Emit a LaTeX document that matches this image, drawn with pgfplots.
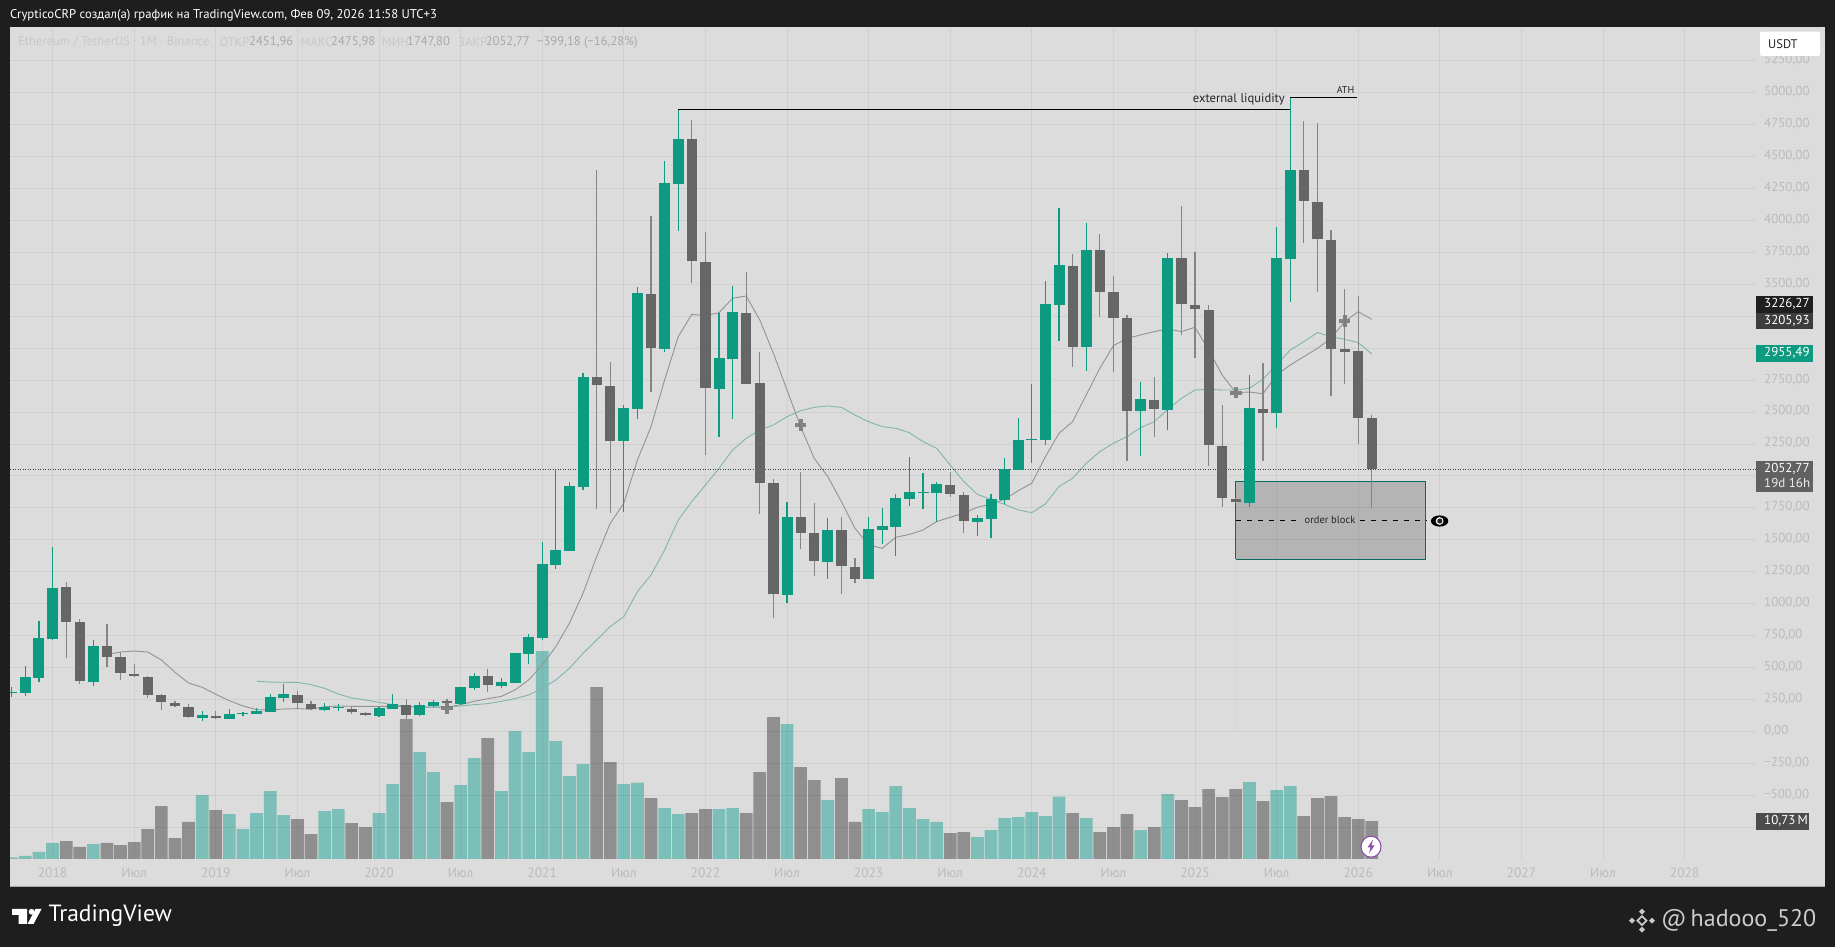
\documentclass[border=0pt]{standalone}
\usepackage{fontspec}
\setmainfont{PT Sans}
\usepackage{pgfplots}
\usepackage{pgfplotstable}
\pgfplotsset{compat=1.18}
\definecolor{bgdark}{HTML}{1E1E1E}
\definecolor{panel}{HTML}{DCDCDC}
\definecolor{upc}{HTML}{0C9A80}
\definecolor{dnc}{HTML}{666666}
\definecolor{dnw}{HTML}{858585}
\definecolor{volup}{HTML}{7CBFB9}
\definecolor{voldn}{HTML}{8F8F8F}
\definecolor{magr}{HTML}{939393}
\definecolor{mate}{HTML}{7FB5AD}
\definecolor{lab}{HTML}{BBBBBB}
\definecolor{pale}{HTML}{C8C8C8}
\definecolor{val}{HTML}{A8A8A8}
\definecolor{bolt}{HTML}{8A4FA8}
\newcommand\fs[1]{\fontsize{#1pt}{#1pt}\selectfont}
% m open high low close
\pgfplotstableread{
m o h l c
-3 298 349 267 306
-2 304 512 280 427
-1 419 865 385 732
0 724 1447 717 1123
3 387 716 356 669
11 108 163 82 129
13 100 173 98 134
14 134 155 121 142
15 140 184 134 160
16 155 293 150 268
17 265 372 234 293
20 171 226 158 189
21 184 213 158 192
24 121 189 116 184
25 179 296 173 213
27 129 233 124 205
28 199 247 189 231
30 215 351 210 346
31 340 455 325 434
33 356 416 338 387
34 380 617 377 614
35 609 763 528 740
36 729 1481 716 1311
37 1303 2047 1274 1420
38 1415 1953 1415 1921
39 1916 2809 1890 2777
42 2276 2556 1716 2532
43 2524 3482 2444 3432
45 2997 4465 2973 4293
46 4288 4869 3920 4638
49 2681 3273 2303 2921
50 2916 3487 2444 3284
54 1068 1794 1003 1679
57 1327 1668 1194 1577
60 1194 1681 1191 1585
61 1577 1752 1468 1608
62 1601 1859 1374 1825
63 1820 2151 1768 1875
64 1866 2021 1744 1878
65 1867 1955 1642 1937
68 1640 1695 1533 1668
69 1666 1859 1512 1817
70 1812 2144 1781 2052
71 2050 2451 2047 2282
72 2280 2720 2104 2292
73 2282 3526 2243 3346
74 3338 4097 3056 3651
76 3010 3983 2822 3769
80 2511 2738 2159 2600
82 2516 3748 2360 3706
88 1791 2790 1760 2530
90 2490 3951 2373 3704
91 3698 4964 3364 4395
}\upT
\pgfplotstableread{
m o h l c
1 1128 1173 573 854
2 854 878 369 393
4 667 841 507 580
5 580 625 403 455
6 453 526 424 432
7 429 434 265 283
8 283 293 168 228
9 225 239 192 197
10 194 213 103 111
12 121 163 100 106
18 288 320 179 220
19 218 239 168 176
22 179 192 134 153
23 147 153 121 127
26 210 257 95 132
29 235 253 216 222
32 432 487 312 361
40 2772 4395 1739 2710
41 2707 2895 1708 2276
44 3427 4035 2660 2999
47 4635 4786 3513 3680
48 3677 3907 2167 2686
51 3278 3594 2720 2723
52 2725 2968 1703 1942
53 1942 1976 886 1076
55 1676 2034 1428 1551
56 1551 1791 1220 1332
58 1575 1681 1079 1293
59 1290 1358 1160 1196
66 1932 2034 1833 1856
67 1854 1877 1551 1648
75 3646 3738 2856 3012
77 3766 3894 3247 3437
78 3437 3568 2811 3234
79 3234 3260 2120 2511
81 2597 2777 2308 2522
83 3704 4113 3104 3344
84 3341 3753 2921 3305
85 3302 3336 2078 2240
86 2237 2556 1760 1828
87 1822 1830 1790 1793
89 2527 2882 2120 2490
92 4392 4781 3826 4150
93 4147 4765 3443 3852
94 3850 3925 2626 2991
95 2991 3461 2720 2973
96 2976 3409 2250 2451
97 2451.96 2475.98 1747.80 2052.77
}\dnT
\pgfplotstableread{
m v
-3 0.47
-2 0.85
-1 1.98
0 4.52
3 4.23
11 18.07
13 12.70
14 8.47
15 12.99
16 19.20
17 12.42
20 13.55
21 14.12
24 12.99
25 21.17
27 30.21
28 24.56
30 20.89
31 28.51
33 19.20
34 36.13
35 30.21
36 58.72
37 33.31
38 23.43
39 26.82
42 21.17
43 21.55
45 14.40
46 12.70
49 14.12
50 14.40
54 38.11
57 16.66
60 14.12
61 13.27
62 20.61
63 14.40
64 11.29
65 10.45
68 6.21
69 8.19
70 11.57
71 11.86
72 13.27
73 12.14
74 17.60
76 11.57
80 8.19
82 18.35
88 21.74
90 19.48
91 20.61
}\volU
\pgfplotstableread{
m v
1 5.08
2 3.39
4 4.52
5 3.95
6 4.80
7 8.47
8 14.96
9 5.93
10 10.45
12 13.83
18 11.29
19 7.06
22 10.16
23 9.03
26 39.52
29 16.09
32 34.16
40 48.56
41 27.38
44 17.22
47 12.99
48 14.12
51 12.99
52 24.56
53 40.09
55 25.97
56 22.30
58 22.87
59 10.45
66 7.34
67 7.62
75 12.99
77 7.62
78 9.03
79 12.70
81 9.03
83 16.66
84 14.68
85 19.76
86 17.50
87 19.76
89 16.37
92 12.14
93 17.22
94 17.79
95 11.86
96 11.29
97 10.73
}\volD
\pgfplotstableread{
m v
4 604
5 622
6 630
7 622
8 560
9 463
10 380
11 346
12 291
13 241
14 200
15 171
16 168
17 176
18 179
19 174
20 194
21 200
22 197
23 197
24 197
25 197
26 194
27 189
28 192
29 189
30 210
31 236
32 257
33 275
34 325
35 403
36 520
37 664
38 847
39 1081
40 1368
41 1629
42 1786
43 2125
44 2386
45 2751
46 3090
47 3265
48 3255
49 3278
50 3391
51 3409
52 3221
53 2960
54 2673
55 2386
56 2138
57 1995
58 1799
59 1590
60 1460
61 1434
62 1520
63 1543
64 1577
65 1643
66 1677
67 1708
68 1755
69 1781
70 1817
71 1885
72 1943
73 2151
74 2334
75 2425
76 2634
77 2843
78 3020
79 3077
80 3104
81 3130
82 3151
83 3130
84 3164
85 2986
86 2790
87 2652
88 2657
89 2644
90 2790
91 2869
92 2934
93 2999
94 3077
95 3208
96 3286
97 3226
}\maG
\pgfplotstableread{
m v
15 393
16 387
17 385
18 385
19 367
20 338
21 294
22 262
23 247
24 228
25 210
26 200
27 192
28 189
29 189
30 200
31 210
32 218
33 236
34 257
35 286
36 338
37 403
38 494
39 612
40 716
41 821
42 899
43 1094
44 1225
45 1421
46 1655
47 1799
48 1929
49 2060
50 2203
51 2295
52 2360
53 2399
54 2464
55 2511
56 2537
57 2548
58 2537
59 2477
60 2425
61 2386
62 2373
63 2339
64 2269
65 2217
66 2086
67 1956
68 1856
69 1817
70 1778
71 1734
72 1713
73 1781
74 1917
75 1982
76 2099
77 2190
78 2256
79 2308
80 2378
81 2425
82 2522
83 2608
84 2673
85 2678
86 2673
87 2673
88 2686
89 2759
90 2869
91 2986
92 3051
93 3122
94 3090
95 3070
96 3044
97 2955
}\maT
\begin{document}
\begin{tikzpicture}
\path[use as bounding box] (0,0) rectangle (1835pt,947pt);
\begin{scope}[x=1pt,y=-1pt,shift={(0pt,947pt)}]
\fill[bgdark] (0,0) rectangle (1835,947);
\fill[panel] (10,27.3) rectangle (1825,886);
\draw[gray!70,line width=1pt] (10,886.3) -- (1825,886.3);
\end{scope}
% volume
\begin{axis}[at={(10pt,88pt)},anchor=south west,scale only axis,width=1746pt,height=831.7pt,
  xmin=-3.132,xmax=125.25,ymin=0,ymax=234.9,hide axis,clip=true]
\addplot[ybar,bar width=12.7pt,bar shift=0pt,fill=volup,draw=none] table[x=m,y=v] \volU;
\addplot[ybar,bar width=12.7pt,bar shift=0pt,fill=voldn,draw=none] table[x=m,y=v] \volD;
\end{axis}
% price
\begin{axis}[at={(10pt,88pt)},anchor=south west,scale only axis,width=1746pt,height=831.7pt,
  xmin=-3.132,xmax=125.25,ymin=-998,ymax=5512,
  axis line style={draw=none},major tick length=0pt,
  /pgf/number format/assume math mode=true,
  xtick={0,6,...,120},
  xticklabels={2018,Июл,2019,Июл,2020,Июл,2021,Июл,2022,Июл,2023,Июл,2024,Июл,2025,Июл,2026,Июл,2027,Июл,2028},
  xticklabel style={text=lab,font=\fs{13.5},inner sep=0pt,anchor=north,yshift=-8.5pt},
  ytick={-500,-250,0,250,500,750,1000,1250,1500,1750,2250,2500,2750,3500,3750,4000,4250,4500,4750,5000,5250},
  yticklabels={−500{,}00,−250{,}00,0{,}00,250{,}00,500{,}00,750{,}00,1000{,}00,1250{,}00,1500{,}00,1750{,}00,2250{,}00,2500{,}00,2750{,}00,3500{,}00,3750{,}00,4000{,}00,4250{,}00,4500{,}00,4750{,}00,5000{,}00,5250{,}00},
  extra y ticks={-750,2000,3000,3250},extra y tick labels={},
  yticklabel pos=right,
  yticklabel style={text=lab,font=\fs{13},inner sep=0pt,anchor=west,xshift=8pt,yshift=0.8pt},
  grid=major,grid style={black,opacity=0.05,line width=1pt},
  clip=true]
% order block
\addplot[draw=none,fill=black,fill opacity=0.18,forget plot] coordinates {(87,1348)(100.97,1348)(100.97,1955)(87,1955)} \closedcycle;
\addplot[draw=upc!70!black,line width=1pt,forget plot] coordinates {(87,1348)(100.97,1348)(100.97,1955)(87,1955)(87,1348)};
% moving averages
\addplot[magr,line width=0.9pt] table[x=m,y=v] \maG;
\addplot[mate,line width=0.9pt] table[x=m,y=v] \maT;
% dotted last price
\addplot[black!75,line width=1pt,dash pattern=on 1pt off 1.5pt] coordinates {(-3.132,2052.77)(125.25,2052.77)};
% wicks
\addplot[draw=none,mark=none,error bars/.cd,y dir=plus,y explicit,error mark=none,error bar style={draw=dnw,line width=1.1pt,solid}] table[x=m,y=l,y error plus expr=\thisrow{h}-\thisrow{l}] \dnT;
\addplot[draw=none,mark=none,error bars/.cd,y dir=plus,y explicit,error mark=none,error bar style={draw=upc,line width=1.1pt,solid}] table[x=m,y=l,y error plus expr=\thisrow{h}-\thisrow{l}] \upT;
% bodies
\addplot[draw=none,mark=none,error bars/.cd,y dir=plus,y explicit,error mark=none,error bar style={draw=dnc,line width=10.2pt,solid}] table[x=m,y=c,y error plus expr=\thisrow{o}-\thisrow{c}] \dnT;
\addplot[draw=none,mark=none,error bars/.cd,y dir=plus,y explicit,error mark=none,error bar style={draw=upc,line width=11pt,solid}] table[x=m,y=o,y error plus expr=\thisrow{c}-\thisrow{o}] \upT;
% crosses
\addplot[only marks,mark=+,mark size=5.8pt,mark options={draw=black!52,opacity=0.9,line width=4pt}] coordinates {(29,186)(55,2399)(87,2652)(95,3215)};
% annotation lines
\addplot[black,line width=1.1pt] coordinates {(46,4869)(46,4870)(91,4870)};
\addplot[black,line width=1.1pt] coordinates {(91,4964)(95.9,4964)};
\addplot[black,line width=1pt,dash pattern=on 5.5pt off 5.5pt] coordinates {(87,1650)(91.4,1650)};
\addplot[black,line width=1pt,dash pattern=on 5.5pt off 5.5pt] coordinates {(96.1,1650)(100.97,1650)};
\end{axis}
\begin{scope}[x=1pt,y=-1pt,shift={(0pt,947pt)}]
\tikzset{t/.style={anchor=west,inner sep=0pt}}
% header
\node[t,text=white] at (10,15) {\fs{12.7}CrypticoCRP создал(а) график на TradingView.com, Фев 09, 2026 11:58 UTC+3};
% legend line
\node[t,text=pale] at (18,42) {\fs{12.6}Ethereum / TetherUS · 1M · Binance};
\node[t,text=pale] at (219.5,42) {\fs{12.6}ОТКР};
\node[t,text=val] at (249,42) {\fs{12.6}2451,96};
\node[t,text=pale] at (300.5,42) {\fs{12.6}МАКС};
\node[t,text=val] at (331,42) {\fs{12.6}2475,98};
\node[t,text=pale] at (381.6,42) {\fs{12.6}МИН};
\node[t,text=val] at (407,42) {\fs{12.6}1747,80};
\node[t,text=pale] at (458,42) {\fs{12.6}ЗАКР};
\node[t,text=val] at (485.6,42) {\fs{12.6}2052,77};
\node[t,text=val] at (537,42) {\fs{12.6}−399,18 (−16,28\%)};
% annotations
\node[anchor=east,inner sep=0pt,text=black!85] at (1285,99.3) {\fs{12.6}external liquidity};
\node[anchor=center,inner sep=0pt,text=black!85] at (1345.5,90) {\fs{10}ATH};
\node[anchor=center,inner sep=0pt,text=black!85] at (1330,520.3) {\fs{10.5}order block};
% eye
\fill[black] (1439.6,521) ellipse (8.7 and 5.6);
\fill[white] (1439.6,521) circle (3.9);
\fill[black!85] (1439.8,521) circle (2.6);
% price tags
\fill[black!88] (1756,296) rectangle (1813,312.7);
\node[t,text=white] at (1764,304) {\fs{13}3226,27};
\fill[black!76] (1756,312.7) rectangle (1813,329.3);
\node[t,text=white] at (1764,321) {\fs{13}3205,93};
\fill[upc] (1756,345) rectangle (1813,361.7);
\node[t,text=white] at (1764,353) {\fs{13}2955,49};
\fill[black!62] (1756,461) rectangle (1813,492);
\node[t,text=white] at (1764,468.7) {\fs{13}2052,77};
\node[t,text=white!92!black] at (1764,483) {\fs{13}19d 16h};
\fill[black!70] (1756,813) rectangle (1809,830);
\node[t,text=white] at (1764,821) {\fs{13}10,73\,M};
% USDT
\fill[white,rounded corners=2pt] (1760,31.7) rectangle (1820,56);
\node[t,text=black!85] at (1768,44.5) {\fs{12.5}USDT};
% lightning
\draw[bolt,fill=white,line width=1.1pt] (1371,846.7) circle [x radius=10,y radius=10.5];
\fill[bolt] (1373,839.5) -- (1367.5,847.5) -- (1370.5,847.5) -- (1369,853.5) -- (1374.5,845.5) -- (1371.5,845.5) -- cycle;
% TradingView logo
\fill[white] (12,909) -- (27,909) -- (27,924) -- (18.6,924) -- (18.6,915) -- (12,915) -- cycle;
\fill[white] (31.6,911.8) circle (2.9);
\fill[white] (35.5,909) -- (41.5,909) -- (33.5,924) -- (27.5,924) -- cycle;
\node[t,text=white] at (48.5,916) {\fs{23.5}TradingView};
% binance mark
\foreach \dx/\dy in {-10/0,10/0,0/-9,0/9}{
  \fill[white!78!black] (1642+\dx,920.7+\dy-3) -- (1642+\dx+3,920.7+\dy) -- (1642+\dx,920.7+\dy+3) -- (1642+\dx-3,920.7+\dy) -- cycle;}
\draw[white!78!black,line width=1.8pt] (1642,916.2) -- (1646.5,920.7) -- (1642,925.2) -- (1637.5,920.7) -- cycle;
\node[t,text=white!80!black] at (1661,920.5) {\fs{24}@\,hadooo\_520};
\end{scope}
\end{tikzpicture}
\end{document}
